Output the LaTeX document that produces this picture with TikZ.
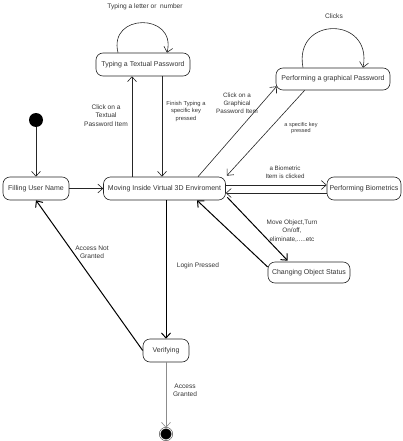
\documentclass[tikz,border=0pt]{standalone}
\usepackage{fontspec}
\setmainfont{Liberation Sans}
\usetikzlibrary{arrows.meta,calc}
\tikzset{
  state/.style={draw=black!85, line width=0.6pt, rounded corners=7pt, inner sep=0pt, align=center, font=\fontsize{7}{8}\selectfont, text=black!80},
  lbl/.style={align=center, inner sep=0pt, text=black!80, font=\fontsize{6.6}{8.4}\selectfont},
  slbl/.style={align=center, inner sep=0pt, text=black!80, font=\fontsize{5.8}{7.2}\selectfont},
  tr/.style={line width=0.6pt, draw=black!85, -{Straight Barb[length=5pt,width=9pt]}},
  thk/.style={tr, line width=1pt, draw=black},
}
\begin{document}
\begin{tikzpicture}[x=1pt,y=-1pt]
\useasboundingbox (0,0) rectangle (402,441);
% states
\node[circle, fill=black, minimum size=14pt, inner sep=0pt] (init) at (36,120) {};
\node[state, minimum width=66pt, minimum height=23pt] (fu) at (36,188.5) {Filling User Name};
\node[state, minimum width=122pt, minimum height=23pt] (mv) at (164.5,188.5) {Moving Inside Virtual 3D Enviroment};
\node[state, minimum width=94pt, minimum height=23pt] (tt) at (143,64.5) {Typing a Textual Password};
\node[state, minimum width=114pt, minimum height=22pt] (gp) at (333,79) {Performing a graphical Password};
\node[state, minimum width=74pt, minimum height=23pt] (bio) at (364,188.5) {Performing Biometrics};
\node[state, minimum width=82pt, minimum height=21pt] (cos) at (309,272.5) {Changing Object Status};
\node[state, minimum width=46pt, minimum height=23pt] (ver) at (166,350.5) {Verifying};
\node[circle, draw=black!80, line width=0.5pt, fill=black, minimum size=12pt, inner sep=0pt, double=white, double distance=0.8pt] (fin) at (166,434) {};

% helper coordinates on the borders
\coordinate (mvA) at ($(mv.north)+(-32.5,0)$);
\coordinate (mvB) at ($(mv.north)+(-2.5,0)$);

% transitions
\draw[tr] (init) -- (fu);
\draw[tr] (fu) -- (mv);
\draw[tr] (mvA) -- (mvA |- tt.south);
\draw[tr] (mvB |- tt.south) -- (mvB);
\draw[tr] ($(tt.north)+(-25,0)$) .. controls +(-10,-40) and +(10,-40) .. ($(tt.north)+(24,0)$);
\draw[tr] ($(mv.north)+(33.5,0)$) -- ($(gp.south west)+(1,-4)$);
\draw[tr] ($(gp.south west)+(29,0)$) -- ($(mv.north east)+(1,-1)$);
\draw[tr] ($(gp.north)+(-30,0)$) .. controls +(-10,-52) and +(10,-52) .. ($(gp.north)+(30,0)$);
\draw[tr] ($(mv.east)+(0,-3.5)$) -- ($(bio.west)+(0,-3.5)$);
\draw[tr] ($(bio.west)+(0,4.5)$) -- ($(mv.east)+(0,4.5)$);
\draw[thk] ($(mv.south east)+(1.5,-3)$) -- ($(cos.north west)+(20,-1)$);
\draw[thk] ($(cos.west)+(0,-5.5)$) -- ($(mv.south)+(32.5,0)$);
\draw[thk] (ver.north |- mv.south) -- (ver.north);
\draw[thk] (ver.west) -- (fu.south);
\draw[tr, draw=black!45] (ver) -- (fin);

% labels
\node[lbl] (l1) at (145,7) {Typing a letter or\ \ number};
\node[lbl] (l2) at (106,115.5) {Click on a\\Textual\\Password Item};
\node[slbl] (l3) at (186,111.5) {Finish Typing a\\specific key\\pressed};
\node[lbl] (l4) at (334,16) {Clicks};
\node[lbl, font=\fontsize{6.3}{8}\selectfont] (l5) at (237,103) {Click on a\\Graphical\\Password Item};
\node[slbl, font=\fontsize{5.5}{6.6}\selectfont] (l6) at (301,128) {a specific key\\pressed};
\node[lbl, font=\fontsize{6.2}{8}\selectfont] (l7) at (285,172) {a Biometric\\Item is clicked};
\node[lbl, font=\fontsize{6.4}{8.4}\selectfont] (l8) at (292,231) {Move Object,Turn\\On/off,\\eliminate,.....etc};
\node[lbl] (l9) at (198,266) {Login Pressed};
\node[lbl] (l10) at (92,252.5) {Access Not\\Granted};
\node[lbl] (l11) at (185,390.5) {Access\\Granted};
\end{tikzpicture}
\end{document}
